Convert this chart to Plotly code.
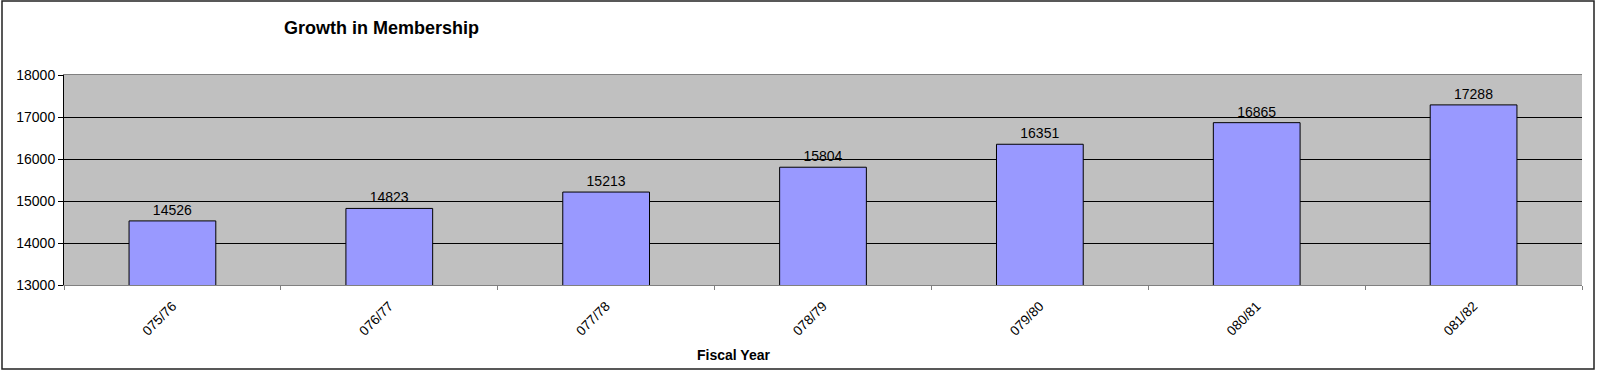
import plotly.graph_objects as go

categories = ["075/76", "076/77", "077/78", "078/79", "079/80", "080/81", "081/82"]
members = [14526, 14823, 15213, 15804, 16351, 16865, 17288]
y_ticks = [13000, 14000, 15000, 16000, 17000, 18000]
y_tick_text = ["13000", "14000", "15000", "16000", "17000", "18000"]

W, H = 1600, 375
L, R, T, B = 64, 18, 75, 90
pw, ph = W - L - R, H - T - B

fig = go.Figure(go.Bar(
    x=categories, y=members, width=0.4,
    marker=dict(color="#9999FF", line=dict(color="black", width=1)),
    text=[str(v) for v in members], textposition="outside",
    textfont=dict(family="Liberation Sans, Arial", size=14, color="black"),
    cliponaxis=False,
))

fig.update_layout(
    width=W, height=H,
    margin=dict(l=L, r=R, t=T, b=B),
    paper_bgcolor="white", plot_bgcolor="#C0C0C0",
    font=dict(family="Liberation Sans, Arial", size=13, color="black"),
    showlegend=False,
    bargap=0.6,
    xaxis=dict(
        type="category", tickson="boundaries", ticks="outside", ticklen=4,
        tickcolor="#808080", tickangle=-45, showgrid=False,
        showline=True, linecolor="#808080", linewidth=1, mirror=True,
        tickfont=dict(size=13.5), ticklabelstandoff=7,
    ),
    yaxis=dict(
        range=[13000, 18000], tickvals=y_ticks, ticktext=y_tick_text,
        ticks="outside", ticklen=5,
        tickcolor="black", showgrid=True, gridcolor="black", gridwidth=1,
        showline=True, linecolor="black", linewidth=1, zeroline=False,
        tickfont=dict(size=14),
    ),
    annotations=[
        dict(text="<b>Growth in Membership</b>", xref="paper", yref="paper",
             x=(381 - L) / pw, y=(H - B - 28) / ph, xanchor="center", yanchor="middle",
             showarrow=False, font=dict(size=18)),
        dict(text="<b>Fiscal Year</b>", xref="paper", yref="paper",
             x=(733 - L) / pw, y=(H - B - 355) / ph, xanchor="center", yanchor="middle",
             showarrow=False, font=dict(size=14)),
    ],
    shapes=[
        dict(type="rect", xref="paper", yref="paper",
             x0=(2 - L) / pw, x1=(1594 - L) / pw,
             y0=(H - B - 369) / ph, y1=(H - B - 1) / ph,
             line=dict(color="#222222", width=1.5), fillcolor="rgba(0,0,0,0)", layer="above"),
    ],
)

fig.write_html("out.html", config={"displayModeBar": False},
               post_script="document.body.style.margin='0';document.body.style.overflow='hidden';")
